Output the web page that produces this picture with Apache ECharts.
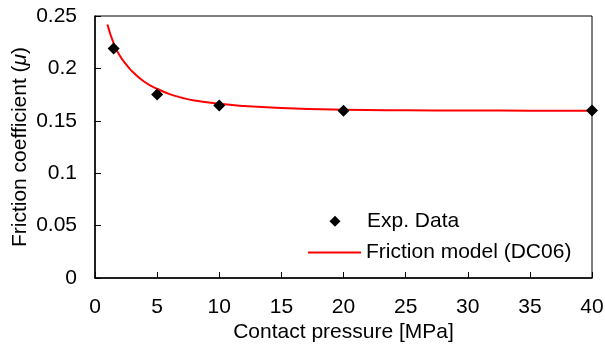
<!DOCTYPE html>
<html>
<head>
<meta charset="utf-8">
<script src="https://cdn.jsdelivr.net/npm/echarts@6/dist/echarts.min.js"></script>
<style>
    html, body {margin: 0; padding: 0; background: #fff;}
    #chart {width: 605px; height: 347px;}
</style>
</head>
<body>
<div id="chart"></div>
<script>
    // measured points
    const expPressure = [1.5, 5, 10, 20, 40];
    const expFriction = [0.219, 0.175, 0.1645, 0.1595, 0.1598];

    // model curve
    const modelPressure = [1, 1.5, 2, 2.7, 3, 4, 5, 6, 7, 8, 10, 12, 15, 20, 25, 30, 35, 40];
    const modelFriction = [0.242, 0.224, 0.212, 0.201, 0.197, 0.187, 0.1805, 0.1755, 0.172, 0.1693, 0.1662, 0.1642, 0.1622, 0.1606, 0.16, 0.1598, 0.1597, 0.1597];

    const font = 'Liberation Sans, Arial, sans-serif';
    const legendText = {fontFamily: font, fontSize: 21, color: '#000', lineHeight: 20};
    const chart = echarts.init(document.getElementById('chart'));

    chart.setOption({
        animation: false,
        backgroundColor: '#fff',
        textStyle: {fontFamily: font, color: '#000'},
        grid: {
            left: 95,
            right: 13,
            top: 16,
            bottom: 69,
            outerBoundsMode: 'none',
            containLabel: false,
            show: true,
            borderColor: '#000',
            borderWidth: 1,
        },
        legend: [
            {
                left: 329.5,
                top: 210.7,
                padding: 0,
                itemWidth: 11,
                itemHeight: 11,
                icon: 'diamond',
                formatter: name => '{g|}' + name,
                textStyle: {...legendText, rich: {g: {width: 21.5}}},
                data: ['Exp. Data'],
            },
            {
                left: 308,
                top: 242,
                padding: 0,
                itemWidth: 53,
                itemHeight: 2,
                icon: 'rect',
                textStyle: legendText,
                data: ['Friction model (DC06)'],
            },
        ],
        xAxis: {
            type: 'value',
            min: 0,
            max: 40,
            interval: 5,
            name: 'Contact pressure [MPa]',
            nameLocation: 'middle',
            nameGap: 44,
            nameMoveOverlap: false,
            nameTextStyle: {fontFamily: font, fontSize: 21, color: '#000'},
            splitLine: {show: false},
            axisLine: {lineStyle: {color: '#000', width: 1.5}},
            axisTick: {inside: true, length: 6, lineStyle: {color: '#000'}},
            axisLabel: {fontFamily: font, fontSize: 21, color: '#000', margin: 19},
        },
        yAxis: {
            type: 'value',
            min: 0,
            max: 0.25,
            interval: 0.05,
            name: 'Friction coefficient ({i|μ})',
            nameLocation: 'middle',
            nameGap: 64,
            nameMoveOverlap: false,
            nameTextStyle: {
                fontFamily: font, fontSize: 21, color: '#000',
                rich: {i: {fontFamily: font, fontSize: 21, fontStyle: 'italic', color: '#000'}},
            },
            splitLine: {show: false},
            axisLine: {show: true, lineStyle: {color: '#000', width: 1.5}},
            axisTick: {show: true, inside: true, length: 6, lineStyle: {color: '#000'}},
            axisLabel: {fontFamily: font, fontSize: 21, color: '#000', margin: 18},
        },
        series: [
            {
                name: 'Friction model (DC06)',
                type: 'line',
                smooth: true,
                symbol: 'none',
                lineStyle: {color: '#ff0000', width: 2},
                itemStyle: {color: '#ff0000'},
                data: modelPressure.map((p, i) => [p, modelFriction[i]]),
                z: 2,
            },
            {
                name: 'Exp. Data',
                type: 'scatter',
                symbol: 'diamond',
                symbolSize: 12,
                itemStyle: {color: '#000', opacity: 1},
                data: expPressure.map((p, i) => [p, expFriction[i]]),
                z: 3,
            },
        ],
    });
</script>
</body>
</html>
